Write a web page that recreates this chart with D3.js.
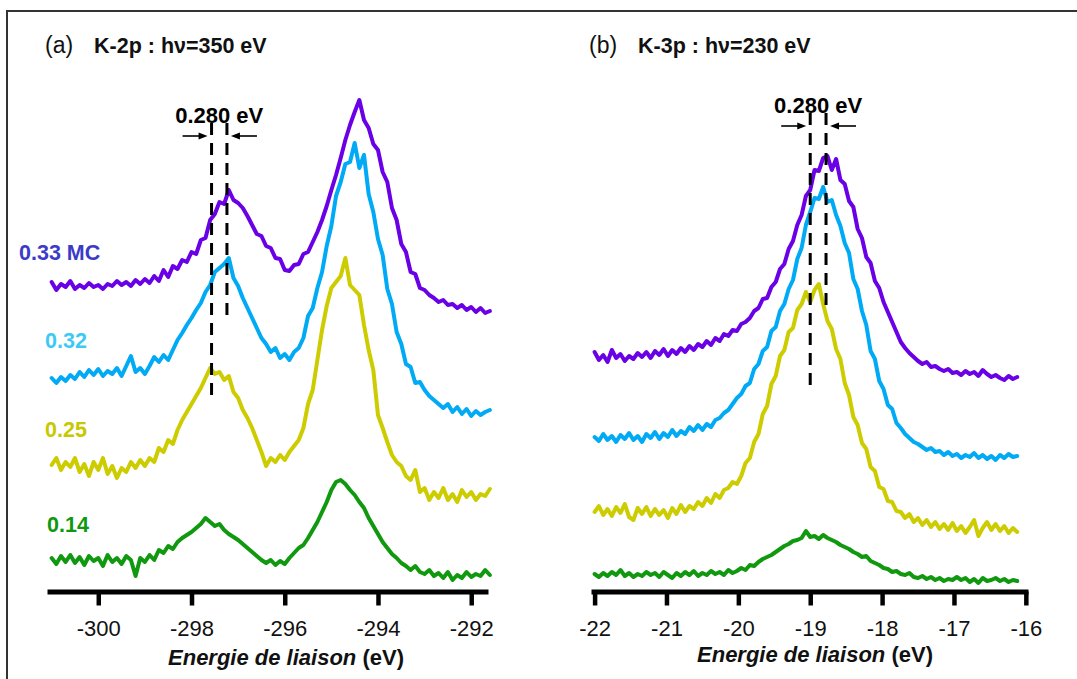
<!DOCTYPE html>
<html><head><meta charset="utf-8">
<script src="https://cdn.jsdelivr.net/npm/d3@7"></script>
<style>
body{margin:0;background:#fff}
svg{display:block}
text{font-family:"Liberation Sans",Arial,Helvetica,sans-serif}
</style>
</head><body>
<svg id="chart" width="1077" height="679"></svg>
<script>
// ---------- DATA ----------
// Binding energy grids (eV)
const energyA = [-301.0,-300.9,-300.8,-300.7,-300.6,-300.5,-300.4,-300.3,-300.2,-300.1,
 -300.0,-299.9,-299.8,-299.7,-299.6,-299.5,-299.4,-299.3,-299.2,-299.1,
 -299.0,-298.9,-298.8,-298.7,-298.6,-298.5,-298.4,-298.3,-298.2,-298.1,
 -298.0,-297.9,-297.8,-297.7,-297.6,-297.5,-297.4,-297.3,-297.2,-297.1,
 -297.0,-296.9,-296.8,-296.7,-296.6,-296.5,-296.4,-296.3,-296.2,-296.1,
 -296.0,-295.9,-295.8,-295.7,-295.6,-295.5,-295.4,-295.3,-295.2,-295.1,
 -295.0,-294.9,-294.8,-294.7,-294.6,-294.5,-294.4,-294.3,-294.2,-294.1,
 -294.0,-293.9,-293.8,-293.7,-293.6,-293.5,-293.4,-293.3,-293.2,-293.1,
 -293.0,-292.9,-292.8,-292.7,-292.6,-292.5,-292.4,-292.3,-292.2,-292.1,
 -292.0,-291.9,-291.8,-291.7,-291.6];

const energyB = [-22.00,-21.94,-21.88,-21.82,-21.76,-21.70,-21.64,-21.58,-21.52,-21.46,
 -21.40,-21.34,-21.28,-21.22,-21.16,-21.10,-21.04,-20.98,-20.92,-20.86,
 -20.80,-20.74,-20.68,-20.62,-20.56,-20.50,-20.44,-20.38,-20.32,-20.26,
 -20.20,-20.14,-20.08,-20.02,-19.96,-19.90,-19.84,-19.78,-19.72,-19.66,
 -19.60,-19.54,-19.48,-19.42,-19.36,-19.30,-19.24,-19.18,-19.12,-19.06,
 -19.00,-18.94,-18.88,-18.82,-18.76,-18.70,-18.64,-18.58,-18.52,-18.46,
 -18.40,-18.34,-18.28,-18.22,-18.16,-18.10,-18.04,-17.98,-17.92,-17.86,
 -17.80,-17.74,-17.68,-17.62,-17.56,-17.50,-17.44,-17.38,-17.32,-17.26,
 -17.20,-17.14,-17.08,-17.02,-16.96,-16.90,-16.84,-16.78,-16.72,-16.66,
 -16.60,-16.54,-16.48,-16.42,-16.36,-16.30,-16.24,-16.18,-16.12];

// K-2p intensities (a.u., curves offset vertically)
const k2p_033 = [318,310,316,313,319,311,315,312,317,313,
 315,311,316,314,319,315,318,314,320,316,
 321,317,324,319,330,323,334,331,340,338,
 348,346,360,362,380,386,398,396,410,400,
 397,392,384,375,366,364,354,352,342,341,
 330,329,335,336,346,348,358,368,380,394,
 410,425,442,460,475,488,500,480,472,456,
 450,428,418,392,380,356,348,328,326,312,
 310,305,302,298,300,295,296,292,295,290,
 293,288,292,287,289];
const k2p_032 = [222,217,223,219,225,221,228,223,230,225,
 231,224,229,226,232,224,234,244,228,232,
 226,234,243,238,245,240,250,260,267,275,
 282,290,297,308,315,328,332,336,342,322,
 314,302,292,282,272,262,256,248,252,242,
 246,240,248,252,262,284,292,312,328,354,
 374,404,418,436,438,457,432,445,406,388,
 361,345,311,296,268,256,236,233,217,218,
 210,204,200,196,192,196,188,193,186,191,
 184,189,185,188,190];
const k2p_025 = [135,142,130,138,133,142,128,136,124,138,
 130,142,126,134,122,132,128,138,132,140,
 134,142,138,152,148,160,156,170,180,188,
 196,204,212,222,232,226,228,220,224,208,
 202,190,182,172,160,148,134,142,138,145,
 140,148,154,160,172,196,210,240,270,294,
 312,318,324,342,315,310,305,275,250,230,
 185,172,158,145,138,134,124,120,130,108,
 112,100,108,102,112,100,106,98,110,103,
 108,100,106,104,111];
const k2p_014 = [42,36,44,38,45,37,43,35,44,39,
 42,34,45,38,42,36,44,40,24,42,
 38,45,40,50,47,54,51,58,62,65,
 68,72,76,82,78,74,76,70,66,63,
 60,56,52,48,44,40,37,40,35,39,
 36,42,47,52,55,62,70,78,88,98,
 110,118,120,116,110,105,98,92,82,74,
 66,58,52,46,42,37,34,30,34,28,
 26,30,24,27,22,28,20,25,22,28,
 23,26,24,30,25];

// K-3p intensities (a.u., curves offset vertically)
const k3p_033 = [248,240,245,238,250,242,246,239,244,241,
 247,243,248,242,249,245,251,244,250,246,
 252,248,254,250,256,253,259,255,262,259,
 266,264,270,269,276,278,282,289,292,301,
 302,313,318,331,336,351,359,375,385,404,
 410,430,429,442,444,430,441,420,416,399,
 393,371,362,343,337,319,312,298,288,278,
 268,258,252,247,243,239,236,238,233,234,
 231,229,231,227,228,225,229,226,228,224,
 230,226,223,225,222,220,224,221,223];
const k3p_032 = [163,159,166,160,164,158,165,161,167,160,
 164,158,166,162,168,161,167,163,170,164,
 169,166,173,169,175,170,176,173,180,182,
 187,190,196,202,206,214,217,231,236,249,
 253,269,273,289,296,311,320,341,352,375,
 388,402,401,413,398,400,385,374,357,347,
 321,311,289,275,249,241,219,211,195,191,
 177,172,166,162,158,156,153,150,152,148,
 149,145,148,144,146,142,145,143,147,142,
 145,141,144,140,145,142,146,143,144];
const k3p_025 = [88,94,85,91,84,93,87,96,83,80,
 92,86,93,84,91,85,90,82,92,86,
 95,88,94,91,98,94,102,97,106,102,
 110,112,118,116,124,137,142,158,166,186,
 194,216,224,244,250,268,272,290,296,308,
 298,310,316,296,279,271,251,241,217,205,
 183,175,157,151,133,129,113,111,99,98,
 89,88,82,86,78,82,75,80,73,78,
 71,76,70,77,69,74,67,73,80,64,
 72,78,70,76,69,74,67,72,68];
const k3p_014 = [26,23,27,24,28,25,30,24,27,23,
 26,24,28,25,27,23,28,25,22,27,
 24,28,25,29,24,27,25,29,26,28,
 25,30,27,29,32,30,35,34,38,41,
 43,45,48,51,54,56,59,60,62,69,
 63,64,61,65,62,60,58,55,53,51,
 48,46,43,44,39,37,35,32,31,28,
 29,26,25,27,23,22,24,21,23,20,
 22,19,21,20,23,20,22,18,21,17,
 22,19,20,22,19,21,18,20,19];

// Series labels (coverage, MC)
const coverageLabels = ["0.33 MC", "0.32", "0.25", "0.14"];
// Tick labels
const ticksA = [-300, -298, -296, -294, -292];
const ticksB = [-22, -21, -20, -19, -18, -17, -16];
// Peak-shift annotation (eV positions of dashed markers)
const shiftA = [-297.57, -297.24];
const shiftB = [-19.00, -18.78];
const shiftText = "0.280 eV";

// ---------- STYLE ----------
const lineColors = ["#6a00e6", "#00aaf5", "#cccc00", "#10990f"];
const labelColors = ["#3b3bc8", "#3ccaf5", "#c9c800", "#10990f"];
const FONT = '"Liberation Sans",Arial,Helvetica,sans-serif';

const svg = d3.select("#chart");
svg.append("rect").attr("width",1077).attr("height",679).attr("fill","#fff");

// frame
svg.append("path").attr("d","M7,679V11H1077").attr("fill","none")
  .attr("stroke","#333").attr("stroke-width",2);

// shared y scale (intensity a.u.)
const y = d3.scaleLinear().domain([8.5, 508.5]).range([591.5, 91.5]);

const xA = d3.scaleLinear().domain([-301.1, -291.64]).range([47, 488]);
const xB = d3.scaleLinear().domain([-22.05, -15.97]).range([591, 1028]);

function drawAxis(x, ticks, titleX, titleBaseline){
  const ax = d3.axisBottom(x).tickValues(ticks).tickSize(14).tickSizeOuter(0)
    .tickPadding(15).tickFormat(d3.format("d"));
  const g = svg.append("g").attr("transform","translate(0,591.5)").call(ax);
  g.select(".domain").attr("stroke","#000").attr("stroke-width",5);
  g.selectAll(".tick line").attr("stroke","#000").attr("stroke-width",4.5);
  g.selectAll(".tick text").attr("font-size",22).attr("fill","#111")
    .attr("font-family",FONT)
    .text(d => String(d));
  const t = svg.append("text").attr("x",titleX).attr("y",titleBaseline)
    .attr("text-anchor","middle").attr("font-size",22).attr("font-weight","bold").attr("fill","#111");
  t.append("tspan").attr("font-style","italic").text("Energie de liaison");
  t.append("tspan").text(" (eV)");
}

const line = (x, energies) => d3.line()
  .x((d,i) => x(energies[i])).y(d => y(d)).curve(d3.curveLinear);

function drawSeries(x, energies, series){
  series.forEach((vals, k) => {
    svg.append("path").datum(vals)
      .attr("d", line(x, energies))
      .attr("fill","none").attr("stroke", lineColors[k])
      .attr("stroke-width",4).attr("stroke-linejoin","round").attr("stroke-linecap","round");
  });
}

function drawShift(x, pos, tops, bottoms, arrowY, textBaseline){
  pos.forEach((p,i) => {
    svg.append("line").attr("x1",x(p)).attr("x2",x(p))
      .attr("y1",tops[i]).attr("y2",bottoms[i])
      .attr("stroke","#000").attr("stroke-width",3).attr("stroke-dasharray","12,8");
  });
  const xl = x(pos[0]), xr = x(pos[1]);
  const cx = (xl+xr)/2;
  svg.append("text").attr("x",cx).attr("y",textBaseline).attr("text-anchor","middle")
    .attr("font-size",22).attr("font-weight","bold").attr("fill","#000").text(shiftText);
  const arrow = (x1, x2) => {
    const dir = Math.sign(x2-x1);
    svg.append("line").attr("x1",x1).attr("x2",x2-dir*6).attr("y1",arrowY).attr("y2",arrowY)
      .attr("stroke","#000").attr("stroke-width",1.6);
    svg.append("path").attr("d",`M${x2},${arrowY}L${x2-dir*9},${arrowY-3.5}L${x2-dir*9},${arrowY+3.5}Z`)
      .attr("fill","#000");
  };
  arrow(xl-29, xl-4);
  arrow(xr+30, xr+4);
}

function title(x, letter, txt){
  svg.append("text").attr("x",x).attr("y",53).attr("font-size",23).attr("fill","#111").text(letter);
  svg.append("text").attr("x",x+49).attr("y",53).attr("font-size",21.5).attr("font-weight","bold")
    .attr("fill","#111").text(txt);
}

// ---------- PANEL (a) ----------
drawAxis(xA, ticksA, 286, 665);
drawSeries(xA, energyA, [k2p_033, k2p_032, k2p_025, k2p_014]);
drawShift(xA, shiftA, [y(477), y(477)], [y(197), y(278)], 136, 123);
title(45, "(a)", "K-2p : h\u03BD=350 eV");

const labelPos = [[19,260],[45,348],[45,437],[47,532]];
coverageLabels.forEach((s,k) => {
  svg.append("text").attr("x",labelPos[k][0]).attr("y",labelPos[k][1])
    .attr("font-size",21.5).attr("font-weight","bold").attr("fill",labelColors[k]).text(s);
});

// ---------- PANEL (b) ----------
drawAxis(xB, ticksB, 815, 662);
drawSeries(xB, energyB, [k3p_033, k3p_032, k3p_025, k3p_014]);
drawShift(xB, shiftB, [y(487), y(487)], [y(208), y(294)], 126, 113);
title(589, "(b)", "K-3p : h\u03BD=230 eV");
</script>
</body></html>
